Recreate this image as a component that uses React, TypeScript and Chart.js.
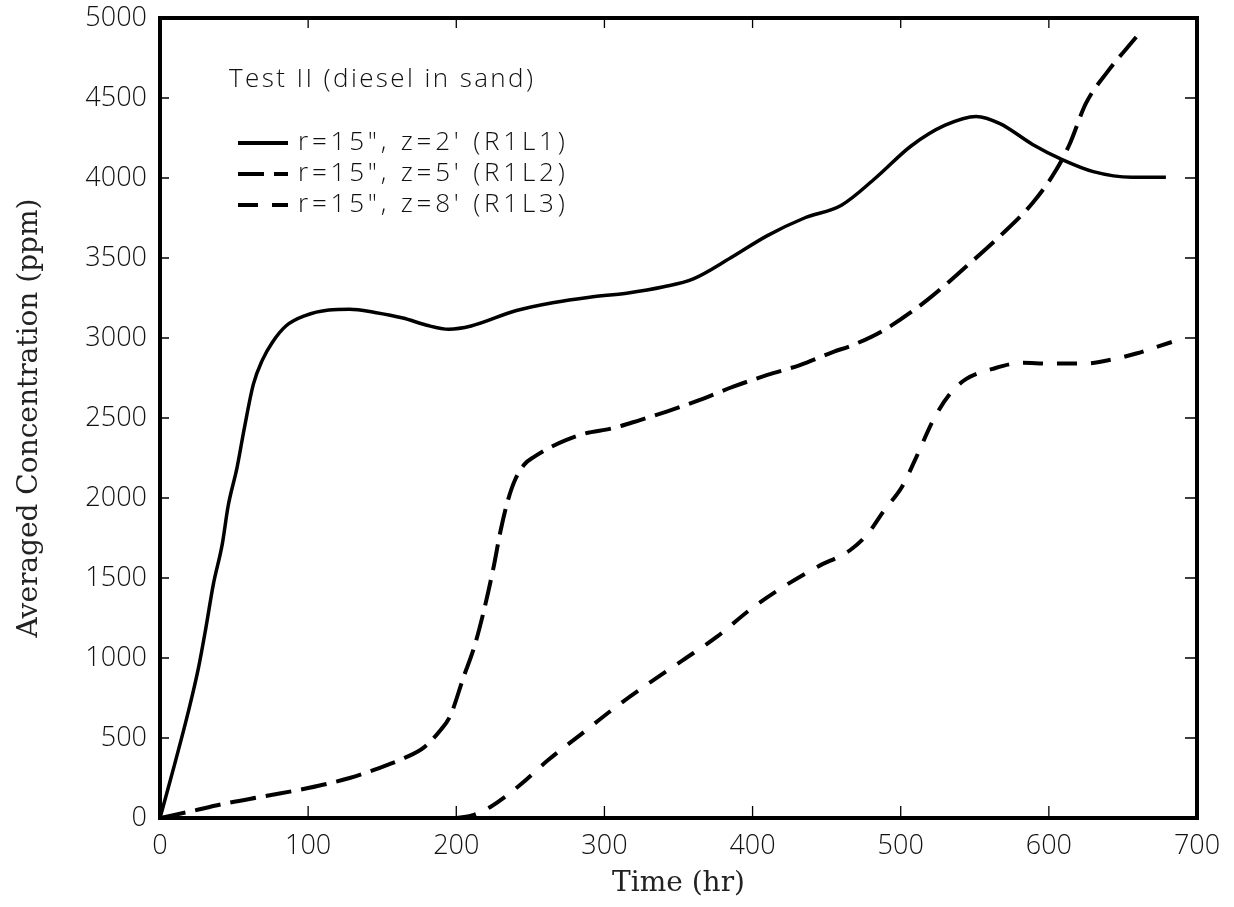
import React, { useEffect, useRef } from "react";
import { Chart, registerables } from "chart.js";

Chart.register(...registerables);

// ---- data ----
const xTickValues = [0, 100, 200, 300, 400, 500, 600, 700];
const yTickValues = [0, 500, 1000, 1500, 2000, 2500, 3000, 3500, 4000, 4500, 5000];

const legendTitle = "Test II (diesel in sand)";
const seriesLabels = ["r=15\", z=2' (R1L1)", "r=15\", z=5' (R1L2)", "r=15\", z=8' (R1L3)"];
const xAxisTitle = "Time (hr)";
const yAxisTitle = "Averaged Concentration (ppm)";

const r1l1Time = [0, 10, 19, 26, 31, 36, 42, 46, 52, 57, 63, 69, 76, 85, 98, 114, 128, 145, 164, 180, 195, 210, 240, 265, 290, 315, 340, 360, 385, 410, 435, 460, 483, 507, 530, 551, 567, 589, 609, 630, 656, 679];
const r1l1Conc = [0, 340, 660, 940, 1190, 1460, 1710, 1950, 2190, 2440, 2710, 2860, 2975, 3075, 3140, 3175, 3180, 3160, 3125, 3080, 3055, 3075, 3170, 3220, 3255, 3280, 3320, 3370, 3500, 3640, 3750, 3830, 4000, 4200, 4330, 4385, 4340, 4210, 4115, 4040, 4005, 4005];

const r1l2Time = [0, 20, 42, 71, 100, 128, 155, 165, 178, 189, 196, 205, 212, 218, 225, 230, 235, 240, 246, 253, 262, 274, 287, 305, 324, 342, 364, 387, 410, 432, 455, 466, 488, 518, 544, 567, 589, 605, 614, 625, 639, 659];
const r1l2Conc = [0, 40, 87, 137, 187, 250, 337, 375, 440, 545, 640, 883, 1065, 1272, 1560, 1800, 1990, 2120, 2210, 2260, 2310, 2362, 2404, 2435, 2487, 2540, 2612, 2696, 2769, 2831, 2915, 2950, 3046, 3238, 3445, 3637, 3844, 4051, 4211, 4466, 4657, 4881];

const r1l3Time = [200, 212, 223, 243, 262, 285, 308, 330, 353, 376, 398, 421, 444, 466, 478, 489, 501, 511, 522, 533, 544, 562, 582, 600, 623, 645, 659, 683];
const r1l3Conc = [0, 20, 69, 206, 362, 529, 696, 842, 987, 1133, 1300, 1446, 1571, 1675, 1779, 1925, 2072, 2265, 2488, 2648, 2743, 2807, 2845, 2840, 2840, 2870, 2903, 2975];

const dashPatterns: number[][] = [[], [26, 10], [20, 14]];

const toPoints = (xs: number[], ys: number[]) => xs.map((x, i) => ({ x, y: ys[i] }));

const framePlugin = {
  id: "frameTicks",
  afterDatasetsDraw(chart: any) {
    const { ctx, chartArea } = chart;
    const xs = chart.scales.x;
    const ys = chart.scales.y;
    const { left, right, top, bottom } = chartArea;
    ctx.save();
    ctx.strokeStyle = "#000";
    ctx.lineWidth = 1.3;
    ctx.beginPath();
    xTickValues.forEach((v) => {
      if (v === 0 || v === 700) return;
      const px = xs.getPixelForValue(v);
      ctx.moveTo(px, bottom);
      ctx.lineTo(px, bottom - 12);
      ctx.moveTo(px, top);
      ctx.lineTo(px, top + 10);
    });
    yTickValues.forEach((v) => {
      if (v === 0 || v === 5000) return;
      const py = ys.getPixelForValue(v);
      ctx.moveTo(left, py);
      ctx.lineTo(left + 9, py);
      ctx.moveTo(right, py);
      ctx.lineTo(right - 12, py);
    });
    ctx.stroke();
    ctx.lineWidth = 4;
    ctx.strokeRect(left, top, right - left, bottom - top);

    // legend
    ctx.fillStyle = "#111";
    ctx.textBaseline = "middle";
    ctx.textAlign = "left";
    ctx.font = "300 26px 'Open Sans', 'DejaVu Sans'";
    (ctx as any).letterSpacing = "2.4px";
    ctx.fillText(legendTitle, 229, 80);
    (ctx as any).letterSpacing = "3.8px";
    const rowsY = [143, 174, 205];
    seriesLabels.forEach((lab, i) => {
      const y = rowsY[i];
      ctx.lineWidth = 4;
      ctx.setLineDash(dashPatterns[i]);
      ctx.beginPath();
      ctx.moveTo(238, y);
      ctx.lineTo(288, y);
      ctx.stroke();
      ctx.setLineDash([]);
      ctx.fillText(lab, 298, y);
    });
    ctx.restore();
  },
};

export default function App() {
  const ref = useRef<HTMLCanvasElement>(null);
  useEffect(() => {
    if (!ref.current) return;
    const seriesData = [
      toPoints(r1l1Time, r1l1Conc),
      toPoints(r1l2Time, r1l2Conc),
      toPoints(r1l3Time, r1l3Conc),
    ];
    const tickFont = { family: "'Open Sans', 'DejaVu Sans'", size: 27, weight: 300 as any };
    const chart = new Chart(ref.current, {
      type: "line",
      data: {
        datasets: seriesData.map((d, i) => ({
          label: seriesLabels[i],
          data: d,
          borderColor: "#000",
          borderWidth: i === 0 ? 3.5 : 4,
          borderDash: dashPatterns[i],
          pointRadius: 0,
          fill: false,
          cubicInterpolationMode: "monotone" as const,
        })),
      },
      options: {
        responsive: false,
        animation: false,
        layout: { padding: { top: 18, right: 37, left: 0, bottom: 0 } },
        plugins: { legend: { display: false }, tooltip: { enabled: false } },
        scales: {
          x: {
            type: "linear",
            min: 0,
            max: 700,
            grid: { display: false, drawTicks: false },
            border: { display: false },
            ticks: {
              stepSize: 100,
              padding: 12,
              color: "#111",
              font: tickFont,
              maxRotation: 0,
              callback: (v: any) => String(v),
            },
            title: {
              display: true,
              text: xAxisTitle,
              color: "#222",
              font: { family: "'DejaVu Serif'", size: 28 },
              padding: { top: 0, bottom: 6 },
            },
            afterFit: (s: any) => {
              s.height = 89;
              s.paddingLeft = 0;
              s.paddingRight = 0;
            },
          },
          y: {
            type: "linear",
            min: 0,
            max: 5000,
            grid: { display: false, drawTicks: false },
            border: { display: false },
            ticks: {
              stepSize: 500,
              padding: 13,
              color: "#111",
              font: tickFont,
              callback: (v: any) => String(v),
            },
            title: {
              display: true,
              text: yAxisTitle,
              color: "#222",
              font: { family: "'DejaVu Serif'", size: 28 },
              padding: { top: 13, bottom: 0 },
            },
            afterFit: (s: any) => {
              s.width = 160;
              s.paddingTop = 0;
              s.paddingBottom = 0;
            },
          },
        },
      },
      plugins: [framePlugin],
    });
    return () => chart.destroy();
  }, []);
  return (
    <div style={{ position: "absolute", left: 0, top: 0, width: 1234, height: 907, background: "#fff" }}>
      <canvas ref={ref} width={1234} height={907} style={{ display: "block" }} />
    </div>
  );
}
